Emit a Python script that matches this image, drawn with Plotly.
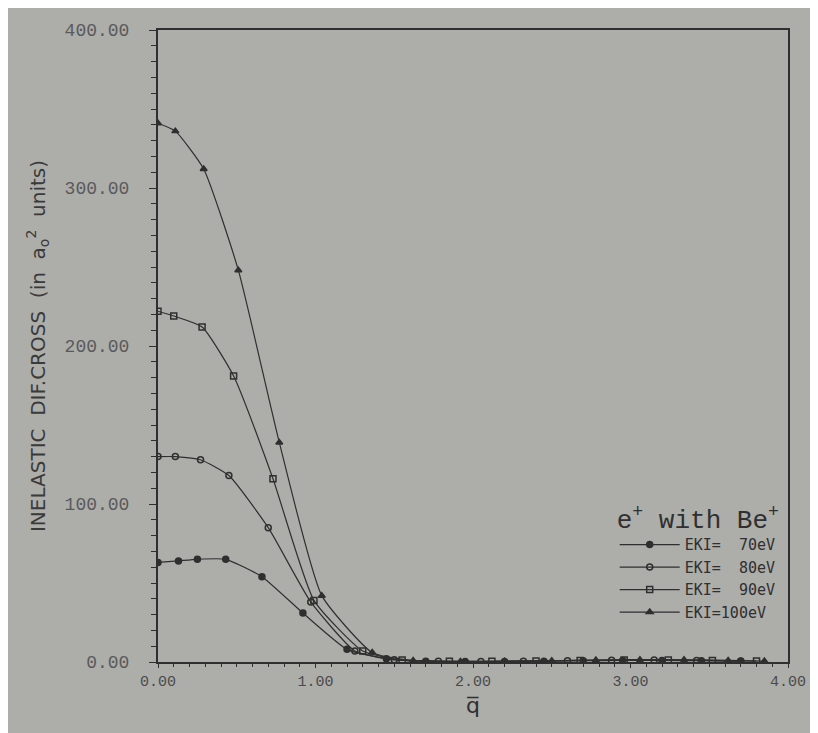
import plotly.graph_objects as go

# Momentum transfer q (a.u.) and inelastic differential cross sections (a0^2 units)
q_70 = [0.00, 0.13, 0.25, 0.43, 0.66, 0.92, 1.20, 1.45, 1.70, 1.95, 2.20, 2.45, 2.70, 2.95, 3.20, 3.45, 3.70]
y_70 = [63, 64, 65, 65, 54, 31, 8, 2, 0.5, 0.3, 0.3, 0.5, 0.8, 1.0, 1.0, 0.8, 0.5]

q_80 = [0.00, 0.11, 0.27, 0.45, 0.70, 0.97, 1.25, 1.50, 1.78, 2.05, 2.32, 2.60, 2.88, 3.15, 3.42, 3.70]
y_80 = [130, 130, 128, 118, 85, 38, 7, 1.5, 0.4, 0.3, 0.5, 0.8, 1.1, 1.2, 1.0, 0.6]

q_90 = [0.00, 0.10, 0.28, 0.48, 0.73, 0.99, 1.30, 1.55, 1.85, 2.12, 2.40, 2.68, 2.96, 3.24, 3.52, 3.80]
y_90 = [222, 219, 212, 181, 116, 39, 7, 1.2, 0.4, 0.4, 0.7, 1.0, 1.3, 1.3, 1.0, 0.6]

q_100 = [0.00, 0.11, 0.29, 0.51, 0.77, 1.04, 1.36, 1.62, 1.92, 2.20, 2.50, 2.78, 3.06, 3.34, 3.62, 3.85]
y_100 = [341, 336, 312, 248, 139, 42, 6, 1.0, 0.4, 0.5, 0.8, 1.2, 1.5, 1.4, 1.0, 0.6]

series_names = ["EKI=  70eV", "EKI=  80eV", "EKI=  90eV", "EKI=100eV"]
x_ticks = [0, 1, 2, 3, 4]
x_tick_labels = ["0.00", "1.00", "2.00", "3.00", "4.00"]
y_ticks = [0, 100, 200, 300, 400]
y_tick_labels = ["0.00", "100.00", "200.00", "300.00", "400.00"]

ink = "#2f2f2f"
paper = "#adadaa"

symbols = ["circle", "circle-open", "square-open", "triangle-up"]
data = [(q_70, y_70), (q_80, y_80), (q_90, y_90), (q_100, y_100)]

fig = go.Figure()
for (xs, ys), name, sym in zip(data, series_names, symbols):
    fig.add_trace(go.Scatter(
        x=xs, y=ys, name=name, mode="lines+markers",
        line=dict(color=ink, width=1.2, shape="spline", smoothing=0.5),
        marker=dict(symbol=sym, size=6, color=ink, line=dict(color=ink, width=1.5)),
    ))

fig.update_layout(
    width=810, height=725,
    margin=dict(l=150, r=26, t=22, b=71),
    paper_bgcolor=paper, plot_bgcolor=paper,
    font=dict(family="Liberation Mono, monospace", color="#3a3a3a"),
    showlegend=True,
    legend=dict(
        x=0.99, y=0.265, xanchor="right", yanchor="top",
        bgcolor="rgba(0,0,0,0)",
        font=dict(family="DejaVu Sans Mono, monospace", size=15, color="#303030"),
        title=dict(text="e<sup>+</sup> with Be<sup>+</sup>",
                   font=dict(family="Liberation Mono, Courier New, monospace", size=26, color="#303030"),
                   side="top"),
        tracegroupgap=0, itemwidth=60,
    ),
    xaxis=dict(
        range=[0, 4], tickvals=x_ticks, ticktext=x_tick_labels,
        showgrid=False, zeroline=False,
        showline=True, linecolor=ink, linewidth=2, mirror=True,
        ticks="outside", ticklen=4, tickcolor=ink,
        minor=dict(dtick=0.1, ticks="outside", ticklen=3, tickcolor=ink),
        tickfont=dict(family="Liberation Mono, monospace", size=15, color="#4a4a4a"),
        title=dict(text="q\u0305", font=dict(family="DejaVu Sans, sans-serif", size=22, color="#303030"), standoff=8),
    ),
    yaxis=dict(
        range=[0, 400], tickvals=y_ticks, ticktext=y_tick_labels,
        showgrid=False, zeroline=False,
        showline=True, linecolor=ink, linewidth=2, mirror=True,
        ticks="outside", ticklen=7, tickcolor=ink,
        minor=dict(dtick=10, ticks="outside", ticklen=5, tickcolor=ink),
        tickfont=dict(family="Liberation Mono, monospace", size=18, color="#5a5a5a"),
        ticklabelstandoff=16,
        title=dict(text="INELASTIC  DIF.CROSS  (in  a<sub>o</sub><sup>2</sup>  units)",
                   font=dict(family="DejaVu Sans, sans-serif", size=20, color="#3a3a3a"), standoff=14),
    ),
)

fig.write_html("out.html")
